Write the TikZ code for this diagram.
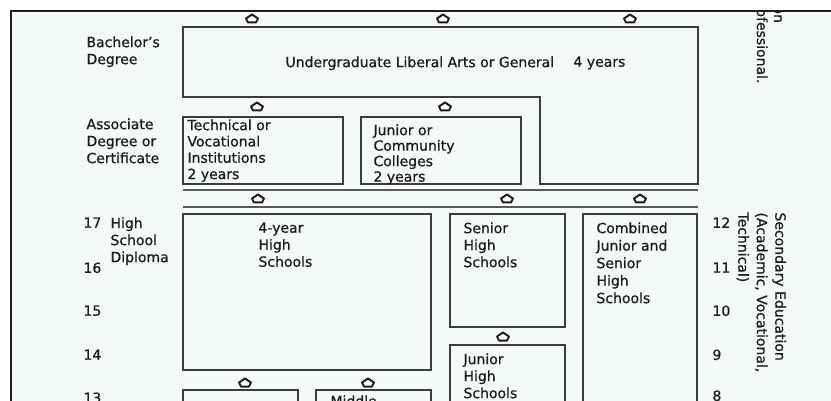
\documentclass[tikz,border=0pt]{standalone}
\usepackage{fontspec}
\setsansfont{DejaVu Sans}[FakeBold=0.9]
\usetikzlibrary{positioning}
\definecolor{cink}{HTML}{1E1E1E}
\definecolor{cline}{HTML}{3C3C3C}
\definecolor{cpaper}{HTML}{F5FAF7}
\tikzset{
  every picture/.style={font=\sffamily, line width=1pt},
  box/.style={draw=cline, line width=1.2pt},
  sepline/.style={draw=cline!85, line width=1.5pt},
  lbl/.style={anchor=north west, align=left, inner sep=0pt, text=cink, font=\sffamily\fontsize{14}{#1}\selectfont},
  lbl/.default=17,
  sidetext/.style={lbl=#1, rotate=-90},
  sidetext/.default=18.5,
  upmark/.pic={\draw[draw=cink, fill=white, line width=2pt, line join=round] (0,-4.5) -- (6,-0.5) -- (4,3.5) -- (-4,3.5) -- (-6,-0.5) -- cycle;},
}

\begin{document}
\begin{tikzpicture}[x=1pt, y=-1pt]
  \useasboundingbox (0,0) rectangle (831,401);
  % ---------- frame
  \fill[cpaper] (11,11) rectangle (831,401);
  \draw[cink, line width=1.4pt] (11,401) -- (11,11) -- (831,11);
  \begin{scope}
  \clip (11.7,11.7) rectangle (831,401);
  % ---------- higher education
  \draw[box] (183,27) -- (698,27) -- (698,184) -- (540,184) -- (540,97) -- (183,97) -- cycle;
  \draw[box] (183,117) rectangle (343,184);
  \draw[box] (361,117) rectangle (521,184);
  \node[lbl] (ugrad) at (285,56) {Undergraduate Liberal Arts or General};
  \node[lbl] (ugradyrs) at (573,56) {4 years};
  \node[lbl] (bach) at (86,36) {Bachelor's\\Degree};
  \node[lbl] (assoc) at (86,118) {Associate\\Degree or\\Certificate};
  \node[lbl=16.3] (tech) at (187,119) {Technical or\\Vocational\\Institutions\\2 years};
  \node[lbl=15.5] (cc) at (373,124) {Junior or\\Community\\Colleges\\2 years};
  \node[sidetext=17, anchor=base west] (hied1) at (774,5) {on};
  \node[sidetext=17, anchor=base west] (hied2) at (757,8) {ofessional.};
  \draw[sepline] (183,190) -- (698,190);
  \draw[sepline] (183,207) -- (698,207);
  % ---------- secondary education
  \draw[box] (183,214) rectangle (431,370);
  \draw[box] (450,214) rectangle (565,327);
  \draw[box] (450,345) rectangle (565,420);
  \draw[box] (583,214) rectangle (697,420);
  \draw[box] (183,390) rectangle (298,420);
  \draw[box] (316,390) rectangle (431,420);
  \node[lbl] (fouryr) at (258,222) {4-year\\High\\Schools};
  \node[lbl] (senior) at (463,222) {Senior\\High\\Schools};
  \node[lbl] (junior) at (463,353) {Junior\\High\\Schools};
  \node[lbl=17.5] (combined) at (596,222) {Combined\\Junior and\\Senior\\High\\Schools};
  \node[lbl] (middle) at (330,395) {Middle};
  \node[lbl] (diploma) at (110,217) {High\\School\\Diploma};
  \node[sidetext] (secedu) at (786.5,212) {Secondary Education\\(Academic, Vocational,\\Technical)};
  % ---------- grades and ages
  \foreach \g/\y in {17/217, 16/262, 15/305, 14/349, 13/392}
    \node[lbl] (age\g) at (83,\y) {\g};
  \foreach \g/\y in {12/217, 11/262, 10/305, 9/349, 8/390}
    \node[lbl] (grade\g) at (712,\y) {\g};
  % ---------- up marks
  \foreach \x/\y in {252/19, 443/19, 630/19, 257/107, 445/107, 258/199, 507/199, 640/199, 503/337, 245/383, 368/383}
    \pic at (\x,\y) {upmark};
  \end{scope}
\end{tikzpicture}
\end{document}
